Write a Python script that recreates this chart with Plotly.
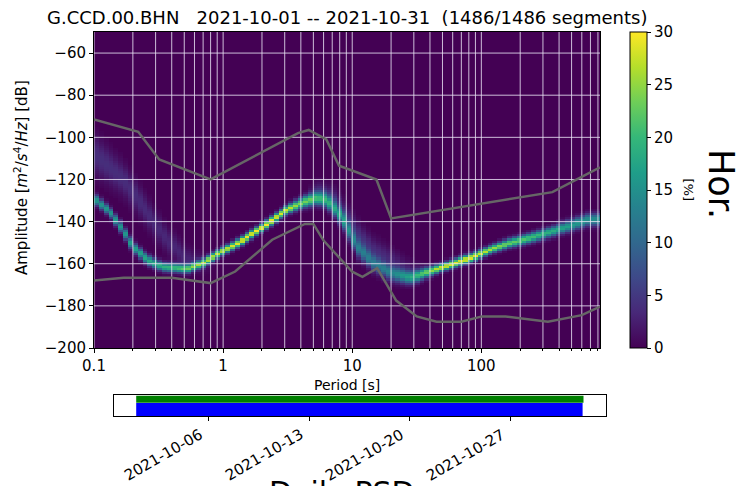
import numpy as np
import plotly.graph_objects as go

# ---- PPSD histogram: dominant population (mode ridge) --------------------
period_knots = [0.1, 0.133, 0.168, 0.2, 0.257, 0.34, 0.53, 0.70, 1.0, 1.35, 2.05, 3.1,
                4.2, 5.3, 6.4, 8.5, 10.9, 14.5, 19.7, 28.3, 48, 87, 115, 165, 240, 340,
                460, 660, 900]
mode_db = [-129, -135.5, -144, -152, -158, -161.5, -162.5, -159.6, -154, -149.7, -142.5,
           -134.5, -130.7, -128.8, -130, -139, -152, -159.6, -164.4, -166.8, -162,
           -156.8, -153.5, -150.2, -147.8, -145, -142.5, -139.2, -139]
peak_pct = [16, 16, 16, 17, 18, 19, 22, 25, 27, 29, 30, 28, 23, 19, 17, 14, 12, 12, 13,
            17, 28, 29, 26, 23, 21, 19, 17, 15, 15]
spread_db = [1.6, 1.6, 1.7, 1.7, 1.6, 1.5, 1.4, 1.3, 1.3, 1.3, 1.3, 1.4, 1.7, 2.0, 2.2,
             2.6, 2.8, 2.6, 2.4, 2.0, 1.3, 1.3, 1.3, 1.4, 1.5, 1.6, 1.8, 1.9, 1.9]

# ---- PPSD histogram: weaker secondary population --------------------------
sec_period = [0.1, 0.17, 0.26, 0.37, 0.53, 0.75, 1.0, 4.0, 5.3, 7.0, 8.5, 11, 14.5, 20,
              28, 40, 900]
sec_db = [-108, -120, -136, -149, -158, -160, -155, -133, -125, -129, -136, -146, -153,
          -158, -163, -163, -140]
sec_pct = [4.0, 3.8, 3.5, 3.2, 3.0, 1.2, 0.0, 0.0, 3.5, 4.5, 4.5, 4.0, 3.5, 3.0, 2.0,
           0.0, 0.0]
sec_spread = [6, 5, 4.5, 4, 3.5, 3, 3, 3, 3, 3.5, 4, 4, 3.5, 3.5, 3, 3, 3]

# ---- Peterson (1993) noise models ------------------------------------------
nlnm_period = [0.1, 0.17, 0.4, 0.8, 1.24, 2.4, 4.3, 5.0, 6.0, 10.0, 12.0, 15.6, 21.9,
               31.6, 45.0, 70.0, 101.0, 154.0, 328.0, 600.0, 830.0]
nlnm_db = [-168.0, -166.7, -166.7, -169.2, -163.7, -148.6, -141.1, -141.1, -149.0,
           -163.8, -166.2, -162.1, -177.5, -185.0, -187.5, -187.5, -185.0, -185.0,
           -187.5, -184.4, -180.4]
nhnm_period = [0.1, 0.22, 0.32, 0.8, 3.8, 4.6, 6.3, 7.9, 15.4, 20.0, 354.8, 830.0]
nhnm_db = [-91.5, -97.4, -110.5, -120.0, -98.0, -96.5, -101.0, -113.5, -120.0, -138.5,
           -126.0, -114.3]

# ---- data coverage timeline ------------------------------------------------
coverage_start, coverage_end = "2021-10-01T00:00", "2021-11-01T01:30"
psd_start, psd_end = "2021-10-01T00:00", "2021-11-01T00:00"
date_ticks = ["2021-10-06", "2021-10-13", "2021-10-20", "2021-10-27"]

title_text = "G.CCD.00.BHN\u00a0\u00a0\u00a02021-10-01 -- 2021-10-31\u00a0\u00a0(1486/1486 segments)"

# ---- histogram grid (1/8 octave period bins, 1 dB amplitude bins) ---------
period_edges = 0.1 * 2.0 ** (np.arange(0, 106) / 8.0)
db_edges = np.arange(-200.0, -49.0, 1.0)
pc = np.log10(np.sqrt(period_edges[:-1] * period_edges[1:]))
dbc = 0.5 * (db_edges[:-1] + db_edges[1:])


def along(px, vals):
    return np.interp(pc, np.log10(px), vals)


m, pk, sg = along(period_knots, mode_db), along(period_knots, peak_pct), along(period_knots, spread_db)
sm, sp, ss = along(sec_period, sec_db), along(sec_period, sec_pct), along(sec_period, sec_spread)
D = dbc[:, None]
hist = pk * np.exp(-0.5 * ((D - m) / sg) ** 2) + sp * np.exp(-0.5 * ((D - sm) / ss) ** 2)
hist[hist < 0.25] = 0.0
hist = np.clip(hist, 0, 30)

W, H = 745, 486
X0, X1, Y0, Y1 = 94, 600, 32, 348          # main panel in pixels
TY0, TY1 = 395, 416                        # coverage strip in pixels
xr = [np.log10(0.1), np.log10(830.0)]
FAM = "DejaVu Sans"

fig = go.Figure()
fig.add_trace(go.Heatmap(
    x=period_edges, y=db_edges, z=hist, colorscale="Viridis", zmin=0, zmax=30,
    zsmooth=False, hoverinfo="skip",
    colorbar=dict(x=630 / W, xanchor="left", y=1 - Y0 / H, yanchor="top",
                  len=(Y1 - Y0) / H, lenmode="fraction", thickness=17,
                  thicknessmode="pixels", xpad=0, ypad=0, outlinecolor="black",
                  outlinewidth=1, ticks="outside", ticklen=4, tickcolor="black",
                  tickvals=[0, 5, 10, 15, 20, 25, 30],
                  tickfont=dict(family=FAM, size=15, color="black")),
))

# grid lines on top of the histogram
major = [0.1, 1, 10, 100]
minor = [k * d for d in (0.1, 1, 10, 100) for k in range(2, 10) if k * d < 830]
gx, gy = [], []
for v in major + minor:
    gx += [v, v, None]
    gy += [-200, -50, None]
for v in range(-180, -50, 20):
    gx += [0.1, 830, None]
    gy += [v, v, None]
fig.add_trace(go.Scatter(x=gx, y=gy, mode="lines", hoverinfo="skip", showlegend=False,
                         line=dict(color="rgba(236,230,246,0.82)", width=1)))

for px, py in ((nlnm_period, nlnm_db), (nhnm_period, nhnm_db)):
    fig.add_trace(go.Scatter(x=px, y=py, mode="lines", hoverinfo="skip", showlegend=False,
                             line=dict(color="#666666", width=2.5)))


def span_ms(a, b):
    return float((np.datetime64(b) - np.datetime64(a)) / np.timedelta64(1, "ms"))


# coverage bars
fig.add_trace(go.Bar(x=[span_ms(psd_start, psd_end)], base=[psd_start], y=[0.31],
                     width=[0.62], orientation="h",
                     marker=dict(color="#0000ff", line_width=0), xaxis="x2", yaxis="y2",
                     hoverinfo="skip", showlegend=False))
fig.add_trace(go.Bar(x=[span_ms(coverage_start, coverage_end)], base=[coverage_start],
                     y=[0.795], width=[0.33], orientation="h",
                     marker=dict(color="#008000", line_width=0), xaxis="x2", yaxis="y2",
                     hoverinfo="skip", showlegend=False))

tick_font = dict(family=FAM, size=15, color="black")

annotations = [
    dict(text=title_text, x=(X0 + X1) / 2 / W, y=1 - 17 / H, xref="paper",
         yref="paper", showarrow=False, xanchor="center", yanchor="middle",
         font=dict(family=FAM, size=18, color="black")),
    dict(text="Period [s]", x=(X0 + X1) / 2 / W, y=1 - 385 / H, xref="paper",
         yref="paper", showarrow=False, xanchor="center", yanchor="middle",
         font=dict(family=FAM, size=14, color="black")),
    dict(text="Amplitude [<i>m</i><sup>2</sup>/<i>s</i><sup>4</sup>/<i>Hz</i>] [dB]",
         x=21 / W, y=1 - 178 / H, xref="paper", yref="paper", showarrow=False,
         textangle=-90, xanchor="center", yanchor="middle",
         font=dict(family=FAM, size=15, color="black")),
    dict(text="[%]", x=688 / W, y=1 - 190 / H, xref="paper", yref="paper",
         showarrow=False, textangle=-90, xanchor="center", yanchor="middle",
         font=dict(family=FAM, size=13, color="black")),
    dict(text="Hor.", x=721 / W, y=1 - 184 / H, xref="paper", yref="paper",
         showarrow=False, textangle=90, xanchor="center", yanchor="middle",
         font=dict(family=FAM, size=35, color="black")),
    dict(text="Daily PSD", x=342 / W, y=1 - 473 / H, xref="paper", yref="paper",
         showarrow=False, xanchor="center", yanchor="top",
         font=dict(family=FAM, size=30, color="black")),
]
# slanted date labels, right end at the tick
for d in date_ticks:
    annotations.append(dict(text=d, x=d, y=1 - (TY1 + 7) / H, xref="x2", yref="paper",
                            showarrow=False, textangle=-30, xanchor="right",
                            yanchor="top", font=dict(family=FAM, size=15, color="black")))

fig.update_layout(
    width=W, height=H, margin=dict(l=0, r=0, t=0, b=0, autoexpand=False),
    paper_bgcolor="white", plot_bgcolor="white", font=tick_font, showlegend=False,
    barmode="overlay",
    xaxis=dict(type="log", range=xr, domain=[X0 / W, X1 / W], anchor="y",
               tickvals=major, ticktext=["0.1", "1", "10", "100"],
               ticks="outside", ticklen=4, tickcolor="black", showgrid=False,
               zeroline=False, showline=True, linecolor="black", linewidth=1, mirror=True,
               minor=dict(tickvals=minor, ticks="outside", ticklen=2, tickcolor="black",
                          showgrid=False),
               tickfont=tick_font, automargin=False),
    yaxis=dict(range=[-200, -50], domain=[1 - Y1 / H, 1 - Y0 / H], anchor="x",
               tickvals=list(range(-200, -59, 20)), ticks="outside", ticklen=4,
               tickcolor="black", showgrid=False, zeroline=False, showline=True,
               linecolor="black", linewidth=1, mirror=True, tickfont=tick_font,
               automargin=False),
    xaxis2=dict(type="date", range=["2021-09-29 11:00", "2021-11-02 15:00"],
                domain=[114 / W, 606 / W], anchor="y2", tickvals=date_ticks,
                showticklabels=False, ticks="outside", ticklen=4,
                tickcolor="black", showgrid=False, zeroline=False, showline=True,
                linecolor="black", linewidth=1, mirror=True, automargin=False),
    yaxis2=dict(range=[0, 1], domain=[1 - TY1 / H, 1 - TY0 / H], anchor="x2",
                showticklabels=False, ticks="", showgrid=False, zeroline=False,
                showline=True, linecolor="black", linewidth=1, mirror=True,
                automargin=False),
    annotations=annotations,
)

fig.write_html("out.html")
